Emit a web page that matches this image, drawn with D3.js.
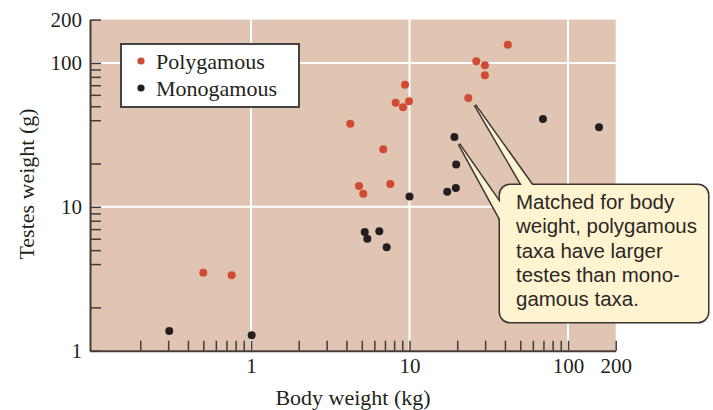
<!DOCTYPE html>
<html><head><meta charset="utf-8">
<script src="https://cdn.jsdelivr.net/npm/d3@7"></script>
<style>body{margin:0;background:#fff}svg{display:block}</style>
</head><body>
<svg id="c" width="713" height="410"></svg>
<script>
// ---- data (body weight kg, testes weight g) ----
const polyBody   = [0.5, 0.755, 4.23, 4.8, 5.11, 6.83, 7.57, 8.18, 9.1, 9.37, 9.93, 23.5, 26.4, 29.9, 29.9, 41.7];
const polyTestes = [3.48, 3.34, 37.8, 13.95, 12.3, 25.1, 14.4, 52.9, 49.1, 70.5, 54.1, 57.0, 102.6, 96.2, 82.0, 133.8];
const monoBody   = [0.305, 1.01, 5.22, 5.42, 6.45, 7.18, 10.0, 17.3, 19.6, 19.2, 19.7, 69.5, 156.9];
const monoTestes = [1.37, 1.28, 6.68, 6.0, 6.76, 5.23, 11.8, 12.7, 13.5, 30.5, 19.7, 40.7, 35.7];
const seriesNames = ["Polygamous", "Monogamous"];
const xTickValues = [0.2,0.3,0.4,0.5,0.6,0.7,0.8,0.9,1,2,3,4,5,6,7,8,9,10,20,30,40,50,60,70,80,90,100,200];
const xTickLabels = [1, 10, 100, 200];
const yTickValues = [2,4,5,6,7,8,9,10,20,40,50,60,70,80,90,100,200];
const yTickLabels = [1, 10, 100, 200];
const gridX = [1, 10, 100];
const gridY = [10, 100];
const xDomain = [0.0964, 200];
const yDomain = [1, 200];
const xTitle = "Body weight (kg)";
const yTitle = "Testes weight (g)";
const calloutLines = ["Matched for body", "weight, polygamous", "taxa have larger", "testes than mono-", "gamous taxa."];

// ---- drawing ----
const svg = d3.select("#c");
const serif = "'Liberation Serif','Times New Roman',serif";
const colors = {poly:"#cf4b31", mono:"#231f20", bg:"#e0c5b3", axis:"#453b38"};
const x = d3.scaleLog().domain(xDomain).range([90, 615.7]);
const y = d3.scaleLog().domain(yDomain).range([350.7, 19.6]);

// plot background
svg.append("rect").attr("x", x.range()[0]).attr("y", y.range()[1])
  .attr("width", x.range()[1]-x.range()[0]).attr("height", y.range()[0]-y.range()[1])
  .attr("fill", colors.bg);

// grid
svg.append("g").selectAll("line").data(gridX).join("line")
  .attr("x1", d=>x(d)).attr("x2", d=>x(d)).attr("y1", y.range()[1]).attr("y2", y.range()[0])
  .attr("stroke", "#fff").attr("stroke-width", 2);
svg.append("g").selectAll("line").data(gridY).join("line")
  .attr("y1", d=>y(d)).attr("y2", d=>y(d)).attr("x1", x.range()[0]).attr("x2", x.range()[1])
  .attr("stroke", "#fff").attr("stroke-width", 2);

// axes
const xAxis = d3.axisBottom(x).tickValues(xTickValues).tickSize(-10).tickSizeOuter(0).tickPadding(7.5)
  .tickFormat(d => xTickLabels.includes(d) ? String(d) : "");
const yAxis = d3.axisLeft(y).tickValues(yTickValues.concat([1])).tickSize(-11).tickSizeOuter(0).tickPadding(8)
  .tickFormat(d => yTickLabels.includes(d) ? String(d) : "");
function styleAxis(g){
  g.select(".domain").attr("stroke", colors.axis).attr("stroke-width", 2);
  g.selectAll(".tick line").attr("stroke", colors.axis).attr("stroke-width", 1.5);
  g.selectAll(".tick text").attr("font-family", serif).attr("font-size", 21).attr("fill", "#231f20");
}
svg.append("g").attr("transform", `translate(0,${y.range()[0]})`).call(xAxis).call(styleAxis);
svg.append("g").attr("transform", `translate(${x.range()[0]},0)`).call(yAxis).call(styleAxis);

// axis titles
svg.append("text").attr("x", 353).attr("y", 405).attr("text-anchor", "middle")
  .attr("font-family", serif).attr("font-size", 22).attr("fill", "#231f20").text(xTitle);
svg.append("text").attr("transform", "translate(34,184) rotate(-90)").attr("text-anchor", "middle")
  .attr("font-family", serif).attr("font-size", 22).attr("fill", "#231f20").text(yTitle);

// points
const poly = polyBody.map((b,i)=>({b, t:polyTestes[i]}));
const mono = monoBody.map((b,i)=>({b, t:monoTestes[i]}));
svg.append("g").selectAll("circle").data(poly).join("circle")
  .attr("cx", d=>x(d.b)).attr("cy", d=>y(d.t)).attr("r", 4).attr("fill", colors.poly);
svg.append("g").selectAll("circle").data(mono).join("circle")
  .attr("cx", d=>x(d.b)).attr("cy", d=>y(d.t)).attr("r", 4).attr("fill", colors.mono);

// legend
const lg = svg.append("g");
lg.append("rect").attr("x", 121).attr("y", 44).attr("width", 178).attr("height", 63)
  .attr("fill", "#fff").attr("stroke", "#444").attr("stroke-width", 2);
const legendColors = [colors.poly, colors.mono];
seriesNames.forEach((n,i)=>{
  lg.append("circle").attr("cx", 141).attr("cy", 61 + i*27).attr("r", 3.6).attr("fill", legendColors[i]);
  lg.append("text").attr("x", 156).attr("y", 68.5 + i*27).attr("font-family", serif).attr("font-size", 22)
    .attr("fill", "#231f20").text(n);
});

// callout
const co = svg.append("g");
const box = {x:500, y:185, w:208, h:137, r:10};
const tri1 = [[475,105],[527.6,195],[539.3,195]];
const tri2 = [[459,144],[506,230],[519,230]];
function drawShapes(g, fill, stroke, sw){
  g.append("rect").attr("x", box.x).attr("y", box.y).attr("width", box.w).attr("height", box.h)
    .attr("rx", box.r).attr("fill", fill).attr("stroke", stroke).attr("stroke-width", sw).attr("stroke-linejoin","round");
  [tri1, tri2].forEach(t=>{
    g.append("path").attr("d", d3.line()(t) + "Z").attr("fill", fill).attr("stroke", stroke)
      .attr("stroke-width", sw).attr("stroke-linejoin","miter");
  });
}
drawShapes(co.append("g"), "#3a3533", "#3a3533", 3);
drawShapes(co.append("g"), "#fff4d0", "none", 0);
const ct = co.append("g");
calloutLines.forEach((l,i)=>{
  ct.append("text").attr("x", 516).attr("y", 209 + i*24.3)
    .attr("font-family", "'Liberation Sans',Arial,sans-serif").attr("font-size", 20)
    .attr("fill", "#2b2625").text(l);
});
// fit font to the widest line (capped so lines do not collide)
const widest = ct.selectAll("text").nodes()[1].getComputedTextLength();
const fs = Math.min(20.5, 20 * 181 / widest);
ct.selectAll("text").attr("font-size", fs);
</script>
</body></html>
